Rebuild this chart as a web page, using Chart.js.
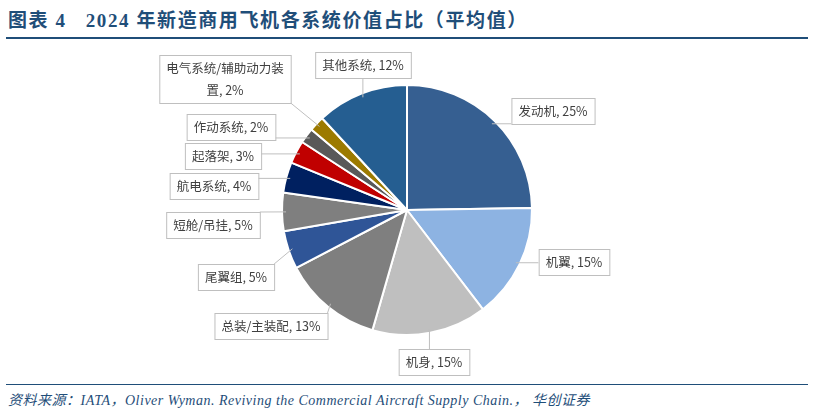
<!DOCTYPE html>
<html><head><meta charset="utf-8">
<script src="https://cdn.jsdelivr.net/npm/chart.js@4"></script>
<style>
body{margin:0;background:#fff;width:814px;height:416px;overflow:hidden;position:relative}
#title{position:absolute;left:8px;top:5px;font:bold 19px "Liberation Serif","Noto Sans CJK SC";color:#1F4E79;letter-spacing:1.6px}
#topline{position:absolute;left:6px;top:37px;width:802px;height:2px;background:#1F4E79}
#botline{position:absolute;left:6px;top:384px;width:802px;height:1px;background:#1F4E79}
#src{position:absolute;left:8px;top:389px;font:italic 14px "Liberation Serif","Noto Sans CJK SC";color:#1F4E79;letter-spacing:0.5px}
canvas{position:absolute;left:0;top:0}
</style></head><body>
<div id="title">图表 4&nbsp;&nbsp;&nbsp;2024 年新造商用飞机各系统价值占比（平均值）</div>
<div id="topline"></div>
<div id="src">资料来源：IATA，Oliver Wyman. Reviving the Commercial Aircraft Supply Chain.， 华创证券</div>
<div id="botline"></div>
<canvas id="c" width="814" height="416"></canvas>
<script>
const categories = ['发动机','机翼','机身','总装/主装配','尾翼组','短舱/吊挂','航电系统','起落架','作动系统','电气系统/辅助动力装置','其他系统'];
const values = [25,15,15,13,5,5,4,3,2,2,12];
const colors = ['#365F91','#8DB3E2','#BFBFBF','#7F7F7F','#2F5597','#7F7F7F','#002060','#C00000','#595959','#9C7A00','#255E91'];
// label box layout: centre x, centre y
const labelPos = [[553,111],[574,262],[434,362],[271,326],[236,277],[213,225],[214,186],[223,156],[231,127],[225,79],[363,65]];
const labelLines = [null,null,null,null,null,null,null,null,null,['电气系统/辅助动力装','置, 2%'],null];

const calloutPlugin = {
  id:'callouts',
  afterDatasetsDraw(chart){
    const ctx = chart.ctx;
    const meta = chart.getDatasetMeta(0);
    ctx.save();
    ctx.font = '12.5px "Noto Sans CJK SC"';
    ctx.textAlign='center'; ctx.textBaseline='middle';
    meta.data.forEach((arc,i)=>{
      const lines = labelLines[i] || [categories[i]+', '+values[i]+'%'];
      const w = Math.max(...lines.map(l=>ctx.measureText(l).width))+14;
      const h = lines.length*22+4;
      const [cx,cy] = labelPos[i];
      const x0=cx-w/2, y0=cy-h/2;
      const mid=(arc.startAngle+arc.endAngle)/2;
      const px=arc.x+Math.cos(mid)*(arc.outerRadius-4), py=arc.y+Math.sin(mid)*(arc.outerRadius-4);
      const ex=Math.min(Math.max(px,x0),x0+w), ey=Math.min(Math.max(py,y0),y0+h);
      if (Math.hypot(px-ex,py-ey)>8){
        ctx.strokeStyle='#BFBFBF'; ctx.lineWidth=1;
        ctx.beginPath(); ctx.moveTo(ex,ey); ctx.lineTo(px,py); ctx.stroke();
      }
      ctx.fillStyle='#fff'; ctx.fillRect(x0,y0,w,h);
      ctx.strokeStyle='#BFBFBF'; ctx.strokeRect(x0+0.5,y0+0.5,w,h);
      ctx.fillStyle='#404040';
      lines.forEach((l,k)=>ctx.fillText(l,cx,y0+13+k*22));
    });
    ctx.restore();
  }
};

new Chart(document.getElementById('c'),{
  type:'pie',
  data:{labels:categories,datasets:[{data:values,backgroundColor:colors,borderColor:'#fff',borderWidth:2}]},
  options:{
    responsive:false,animation:false,
    layout:{padding:{top:84,bottom:80,left:281,right:281}},
    plugins:{legend:{display:false},tooltip:{enabled:false}}
  },
  plugins:[calloutPlugin]
});
</script>
</body></html>
